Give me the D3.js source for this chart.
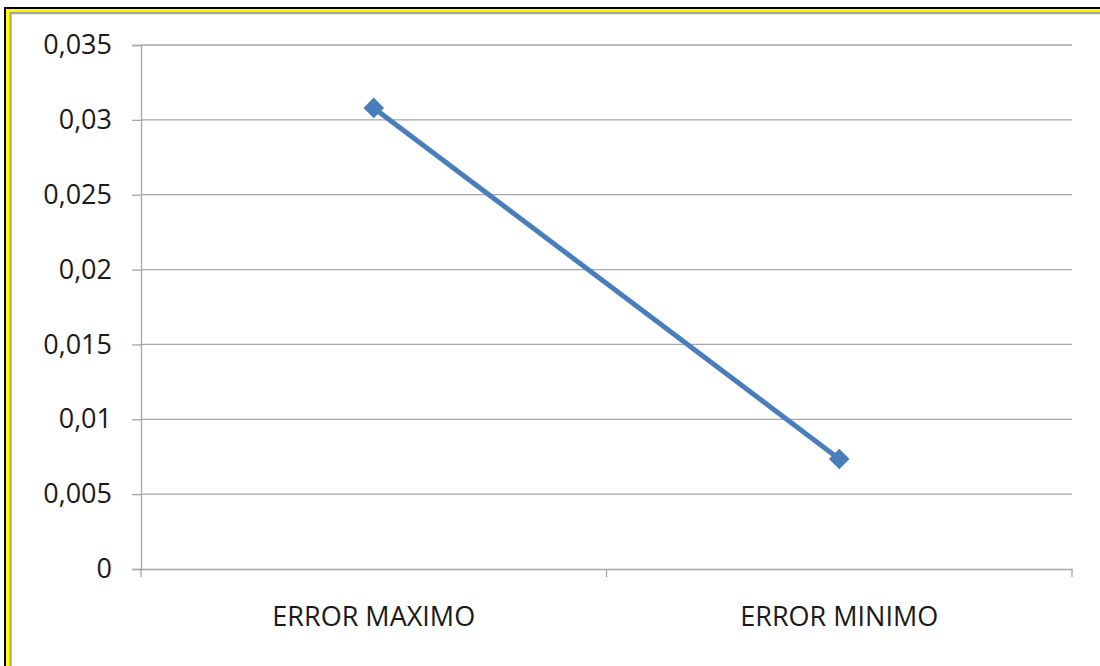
<!DOCTYPE html>
<html>
<head>
<meta charset="utf-8">
<script src="https://cdn.jsdelivr.net/npm/d3@7"></script>
<style>
  body { margin: 0; background: #fff; }
  svg text { font-family: "Open Sans", sans-serif; fill: #1a1a1a; }
</style>
</head>
<body>
<div id="chart"></div>
<script>
var categories = ["ERROR MAXIMO", "ERROR MINIMO"];
var values = [0.0308, 0.00735];
var yTicks = [0, 0.005, 0.01, 0.015, 0.02, 0.025, 0.03, 0.035];
var yTickLabels = ["0", "0,005", "0,01", "0,015", "0,02", "0,025", "0,03", "0,035"];

var width = 1100, height = 666;
var margin = { top: 45, right: 28, bottom: 97, left: 141 };

var svg = d3.select('#chart').append('svg').attr('width', width).attr('height', height);

// frame edges (black, yellow, grey) on left and top
svg.append('path').attr('d', 'M5,666 V8 H1100').attr('fill', 'none').attr('stroke', '#000').attr('stroke-width', 2);
svg.append('path').attr('d', 'M7.5,666 V10.5 H1100').attr('fill', 'none').attr('stroke', '#ffff00').attr('stroke-width', 3);
svg.append('path').attr('d', 'M10.5,666 V13 H1100').attr('fill', 'none').attr('stroke', '#a6a6a6').attr('stroke-width', 2.5);

var x = d3.scaleBand().domain(categories).range([margin.left, width - margin.right]);
var y = d3.scaleLinear().domain([0, 0.035]).range([height - margin.bottom, margin.top]);

// gridlines
svg.append('g').selectAll('line')
    .data(yTicks.slice(1))
    .enter()
    .append('line')
    .attr('x1', margin.left).attr('x2', width - margin.right)
    .attr('y1', function(d) { return y(d); })
    .attr('y2', function(d) { return y(d); })
    .attr('stroke', '#a6a6a6').attr('stroke-width', 1.3);

// y axis
var yAxis = svg.append('g')
    .attr('transform', 'translate(' + margin.left + ',0)')
    .call(d3.axisLeft(y).tickValues(yTicks).tickSize(9).tickPadding(20)
        .tickFormat(function(d, i) { return yTickLabels[i]; }));

// x axis
var xAxis = svg.append('g')
    .attr('transform', 'translate(0,' + (height - margin.bottom) + ')')
    .call(d3.axisBottom(x).tickSize(0).tickPadding(34));

// category boundary ticks
svg.append('g').selectAll('line')
    .data(categories.concat(['end']))
    .enter()
    .append('line')
    .attr('x1', function(d, i) { return margin.left + i * x.bandwidth(); })
    .attr('x2', function(d, i) { return margin.left + i * x.bandwidth(); })
    .attr('y1', height - margin.bottom)
    .attr('y2', height - margin.bottom + 8)
    .attr('stroke', '#a6a6a6').attr('stroke-width', 1.3);

[yAxis, xAxis].forEach(function(ax) {
    ax.select('.domain').attr('stroke', '#a6a6a6').attr('stroke-width', 1.3);
    ax.selectAll('.tick line').attr('stroke', '#a6a6a6').attr('stroke-width', 1.3);
    ax.selectAll('text').attr('fill', '#1a1a1a')
        .style('font-family', '"Open Sans", sans-serif');
});
yAxis.selectAll('text').style('font-size', '27px');
xAxis.selectAll('text').style('font-size', '27px').attr('dy', '0.85em');

// series
var pts = categories.map(function(c, i) { return { c: c, v: values[i] }; });

svg.append('path')
    .datum(pts)
    .attr('fill', 'none')
    .attr('stroke', '#4a7ebb')
    .attr('stroke-width', 5)
    .attr('d', d3.line()
        .x(function(d) { return x(d.c) + x.bandwidth() / 2; })
        .y(function(d) { return y(d.v); }));

svg.append('g').selectAll('path')
    .data(pts)
    .enter()
    .append('path')
    .attr('d', d3.symbol().type(d3.symbolDiamond2).size(270))
    .attr('transform', function(d) {
        return 'translate(' + (x(d.c) + x.bandwidth() / 2) + ',' + y(d.v) + ')';
    })
    .attr('fill', '#4a7ebb');
</script>
</body>
</html>
